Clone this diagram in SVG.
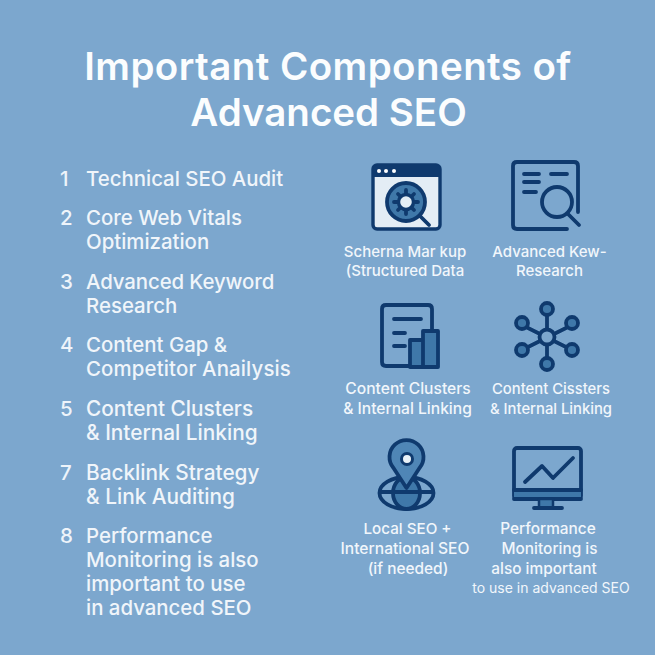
<svg xmlns="http://www.w3.org/2000/svg" width="655" height="655" viewBox="0 0 655 655">
<style>
text{font-family:Inter,"Noto Sans","Liberation Sans",sans-serif;fill:#f1f6fb}
.t{font-size:38.500px;font-weight:600;text-anchor:middle;fill:#fbfdfe}
.n{font-size:20.500px;font-weight:500;fill:#eef4fa}
.l{font-size:20.400px;font-weight:500;fill:#f0f5fa}
.b{font-size:20.800px}
.c{font-size:15.400px;font-weight:500;text-anchor:middle}
.i{fill:none;stroke:#0f3a6e;stroke-width:3.800;stroke-linecap:round;stroke-linejoin:round}
.m{fill:#3f78a9;stroke:#0f3a6e;stroke-width:3.800;stroke-linejoin:round}
</style>
<rect width="655" height="655" fill="#7ca7ce"/>
<g id="title"><text class="t" x="328" y="80" style="letter-spacing:.42px">Important Components of</text><text class="t" x="328.500" y="126">Advanced SEO</text></g>
<g id="item1"><text class="n" x="60" y="186">1</text><text class="l" x="86" y="186">Technical SEO Audit</text></g>
<g id="item2"><text class="n" x="60" y="225">2</text><text class="l" x="86" y="225">Core Web Vitals</text><text class="l" x="86" y="249">Optimization</text></g>
<g id="item3"><text class="n" x="60" y="289">3</text><text class="l" x="86" y="289" style="letter-spacing:-.1px">Advanced Keyword</text><text class="l" x="86" y="313">Research</text></g>
<g id="item4"><text class="n" x="60" y="352">4</text><text class="l" x="86" y="352">Content Gap &amp;</text><text class="l" x="86" y="376" style="letter-spacing:.15px">Competitor Anailysis</text></g>
<g id="item5"><text class="n" x="60" y="416">5</text><text class="l b" x="86" y="416">Content Clusters</text><text class="l b" x="86" y="440">&amp; Internal Linking</text></g>
<g id="item7"><text class="n" x="60" y="480">7</text><text class="l b" x="86" y="480">Backlink Strategy</text><text class="l b" x="86" y="504">&amp; Link Auditing</text></g>
<g id="item8"><text class="n" x="60" y="543">8</text><text class="l" x="86" y="543">Performance</text><text class="l" x="86" y="567">Monitoring is also</text><text class="l" x="86" y="591">important to use</text><text class="l" x="86" y="615">in advanced SEO</text></g>

<g id="schema">
<rect x="373" y="165" width="67" height="64" rx="4" fill="#e3edf5" stroke="#0f3a6e" stroke-width="3.400"/>
<path d="M373 169q0-4 4-4h59q4 0 4 4v8h-67z" fill="#0f3a6e"/>
<circle cx="379" cy="171" r="2" fill="#fff"/><circle cx="386" cy="171" r="2" fill="#fff"/><circle cx="394" cy="171" r="2" fill="#fff"/>
<circle cx="406" cy="202" r="19" fill="#3f78a9" stroke="#0f3a6e" stroke-width="3.800"/>
<circle cx="406" cy="202" r="7.500" fill="#e3edf5" stroke="#0f3a6e" stroke-width="3.400"/>
<path class="i" d="M406 190v4M406 210v4M394 202h4M414 202h4M398 194l2 2M412 208l2 2M414 194l-2 2M398 210l2-2M420 216l9 9"/>
<text class="c" x="405" y="257" style="font-size:15px">Scherna Mar kup</text><text class="c" x="405" y="276" style="font-size:15px">(Structured Data</text>
</g>
<g id="keyword">
<path class="i" d="M567 229h-50q-4 0-4-4v-59q0-4 4-4h57q4 0 4 4v46"/>
<path class="i" d="M524 174h15M551 174h16M524 182h15M524 192h12M567 213l12 12"/>
<circle class="i" cx="557" cy="202" r="15" style="fill:#7ca7ce"/>
<text class="c" x="549.500" y="257" style="font-size:15px">Advanced Kew-</text><text class="c" x="549.500" y="276" style="font-size:15px">Research</text>
</g>
<g id="clusters">
<path class="i" d="M410 366h-24q-4 0-4-4v-53q0-4 4-4h42q4 0 4 4v22"/>
<path class="i" d="M394 319h27M394 333h11M394 346h11"/>
<path class="m" d="M410 340h13v27h-13zM423 331h15v36h-15z"/>
<text class="c" x="408" y="394" style="font-size:15.600px">Content Clusters</text><text class="c" x="407.500" y="414" style="font-size:15.600px">&amp; Internal Linking</text>
</g>
<g id="network">
<path class="i" d="M547 329V315M547 345v13M540 334l-14-7M554 334l14-7M540 341l-14 7M554 341l14 7"/>
<g fill="#3f78a9" stroke="#0f3a6e" stroke-width="3.800"><circle cx="547" cy="309" r="6"/><circle cx="547" cy="364" r="6"/><circle cx="522" cy="323" r="6"/><circle cx="572" cy="323" r="6"/><circle cx="522" cy="350" r="6"/><circle cx="572" cy="350" r="6"/></g>
<circle cx="547" cy="337" r="7.500" fill="#7ca7ce" stroke="#0f3a6e" stroke-width="3.800"/>
<text class="c" x="551" y="394" style="font-size:14.800px">Content Cissters</text><text class="c" x="551" y="414" style="font-size:14.800px">&amp; Internal Linking</text>
</g>
<g id="local">
<ellipse cx="406.500" cy="493" rx="27" ry="16" fill="#7ca7ce" stroke="#0f3a6e" stroke-width="3.800"/>
<ellipse class="m" cx="406.500" cy="493" rx="13.500" ry="16"/>
<path class="i" d="M380 492h53"/>
<path d="M406.500 488l-13-20a17 17 0 1 1 26 0z" fill="#4f86b6" stroke="#0f3a6e" stroke-width="3.800" stroke-linejoin="round"/>
<circle cx="407" cy="459" r="5.500" fill="#eaf2f8" stroke="#0f3a6e" stroke-width="3"/>
<text class="c" x="407.500" y="534" style="font-size:15.200px">Local SEO +</text><text class="c" x="405" y="554" style="font-size:15.600px">International SEO</text><text class="c" x="408" y="574">(if needed)</text>
</g>
<g id="monitor">
<rect x="514" y="448" width="67" height="51" rx="3" class="i"/>
<path class="m" d="M514 490h67v9h-67z" style="stroke:none"/>
<path class="i" d="M514 490h67M514 499h67"/>
<rect x="539" y="499" width="14" height="9" class="m" style="stroke-width:2.500"/>
<path class="i" d="M534 508h28M525 482l17-16 11 12 20-20"/>
<text class="c" x="548" y="534">Performance</text><text class="c" x="549.500" y="554">Monitoring is</text><text class="c" x="544" y="574">also important</text><text x="551" y="593" text-anchor="middle" style="font-size:14px">to use in advanced SEO</text>
</g>
</svg>
